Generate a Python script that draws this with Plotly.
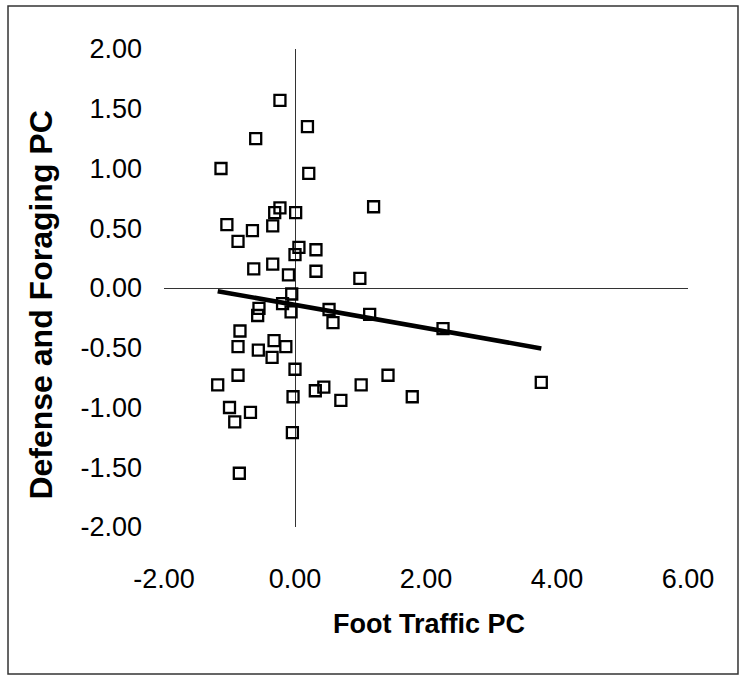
import plotly.graph_objects as go

# Principal component scores for each site
foot_traffic = [
    -0.23, 0.19, -0.60, -1.13, 0.21, 1.20, -0.23, -0.31, 0.01, -1.04,
    -0.65, -0.34, -0.87, 0.06, 0.32, 0.00, -0.63, -0.34, -0.10, 0.32,
    0.99, -0.05, -0.19, -0.06, -0.55, -0.57, 0.52, 0.58, 1.14, -0.84,
    -0.87, -0.32, -0.14, -0.56, -0.35, 0.00, -0.87, -1.18, 0.44, 0.31,
    1.01, 1.42, 0.70, -0.03, -1.00, -0.68, -0.92, -0.04, -0.85, 2.26,
    3.76, 1.79,
]
defense_foraging = [
    1.57, 1.35, 1.25, 1.00, 0.96, 0.68, 0.67, 0.63, 0.63, 0.53,
    0.48, 0.52, 0.39, 0.34, 0.32, 0.28, 0.16, 0.20, 0.11, 0.14,
    0.08, -0.05, -0.13, -0.20, -0.17, -0.23, -0.18, -0.29, -0.22, -0.36,
    -0.49, -0.44, -0.49, -0.52, -0.58, -0.68, -0.73, -0.81, -0.83, -0.86,
    -0.81, -0.73, -0.94, -0.91, -1.00, -1.04, -1.12, -1.21, -1.55, -0.34,
    -0.79, -0.91,
]

# Linear trend line
trend_slope = -0.097
trend_intercept = -0.141

x_ticks = [-2, 0, 2, 4, 6]
x_tick_labels = ["-2.00", "0.00", "2.00", "4.00", "6.00"]
y_ticks = [-2, -1.5, -1, -0.5, 0, 0.5, 1, 1.5, 2]
y_tick_labels = ["-2.00", "-1.50", "-1.00", "-0.50", "0.00", "0.50", "1.00", "1.50", "2.00"]

x_title = "Foot Traffic PC"
y_title = "Defense and Foraging PC"

FONT = "Liberation Sans, Arial, sans-serif"

x_min, x_max = min(foot_traffic), max(foot_traffic)
trend_x = [x_min, x_max]
trend_y = [trend_intercept + trend_slope * v for v in trend_x]

fig = go.Figure()
fig.add_trace(go.Scatter(
    x=trend_x, y=trend_y, mode="lines",
    line=dict(color="black", width=4.5),
    hoverinfo="skip", showlegend=False,
))
fig.add_trace(go.Scatter(
    x=foot_traffic, y=defense_foraging, mode="markers",
    marker=dict(symbol="square-open", size=11, color="black",
                line=dict(color="black", width=2.3)),
    showlegend=False,
))

axis_common = dict(
    showgrid=False, showline=False, zeroline=True,
    zerolinecolor="#333", zerolinewidth=1,
    ticks="", tickfont=dict(family=FONT, size=27, color="black"),
)

fig.update_layout(
    width=741, height=677,
    margin=dict(l=164, r=53, t=49, b=150),
    paper_bgcolor="white", plot_bgcolor="white",
    xaxis=dict(range=[-2, 6], tickvals=x_ticks, ticktext=x_tick_labels,
               ticklabelstandoff=33, **axis_common),
    yaxis=dict(range=[-2, 2], tickvals=y_ticks, ticktext=y_tick_labels,
               ticklabelstandoff=21, **axis_common),
    annotations=[
        dict(text=x_title, xref="paper", yref="paper", x=0.505, y=-0.202,
             xanchor="center", yanchor="middle", showarrow=False,
             font=dict(family=FONT, size=27, color="black", weight="bold")),
        dict(text=y_title, xref="paper", yref="paper", x=-0.234, y=0.464,
             xanchor="center", yanchor="middle", showarrow=False, textangle=-90,
             font=dict(family=FONT, size=32, color="black", weight="bold")),
    ],
    shapes=[
        dict(type="rect", xref="paper", yref="paper",
             x0=-0.2977, x1=1.0954, y0=-0.3075, y1=1.0900,
             line=dict(color="#333", width=1.5), fillcolor="rgba(0,0,0,0)"),
    ],
)

fig.write_html("out.html")
